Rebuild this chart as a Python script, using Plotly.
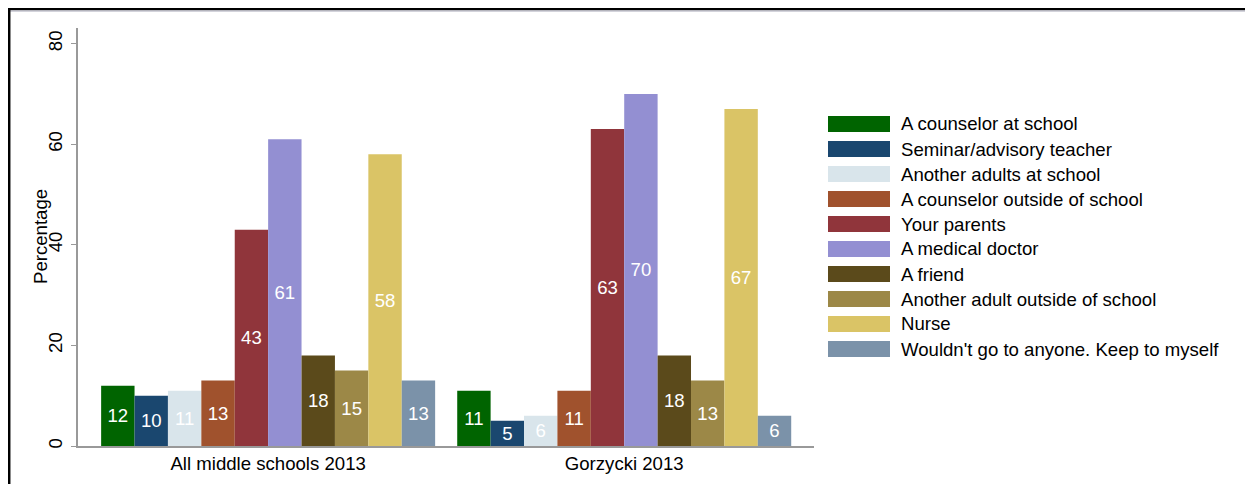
import plotly.graph_objects as go

# ---- data ----
categories = ["All middle schools 2013", "Gorzycki 2013"]
responses = [
    "A counselor at school",
    "Seminar/advisory teacher",
    "Another adults at school",
    "A counselor outside of school",
    "Your parents",
    "A medical doctor",
    "A friend",
    "Another adult outside of school",
    "Nurse",
    "Wouldn't go to anyone. Keep to myself",
]
all_middle_schools = [12, 10, 11, 13, 43, 61, 18, 15, 58, 13]
gorzycki = [11, 5, 6, 11, 63, 70, 18, 13, 67, 6]
y_ticks = [0, 20, 40, 60, 80]
y_title = "Percentage"

colors = [
    "#006400", "#1a476f", "#d9e5eb", "#a0522d", "#90353b",
    "#938fd2", "#5b4a1b", "#9c8847", "#dac466", "#7b92a9",
]

OFF = 8  # page body margin
W, H = 1253, 476
# plot area in page pixels -> figure pixels
L, R, T, B = 78 - OFF, 814 - OFF, 28 - OFF, 446 - OFF
FONT = "Arial, Liberation Sans, sans-serif"
FS = 18.6


def px_x(px):  # page pixel -> paper
    return (px - OFF - L) / (R - L)


def px_y(py):
    return (B - (py - OFF)) / (B - T)


fig = go.Figure()
for i, name in enumerate(responses):
    vals = [all_middle_schools[i], gorzycki[i]]
    fig.add_trace(go.Bar(
        x=[0, 1], y=vals, name=name,
        marker=dict(color=colors[i], line=dict(width=0)),
        text=[str(v) for v in vals],
        textposition="inside", insidetextanchor="middle",
        constraintext="none", textangle=0,
        insidetextfont=dict(color="white", size=FS, family=FONT),
        hoverinfo="name+y",
    ))

shapes = []
annotations = []
# manual legend
for i, name in enumerate(responses):
    cy = 124 + 25 * i
    shapes.append(dict(type="rect", xref="paper", yref="paper",
                       x0=px_x(828), x1=px_x(890), y0=px_y(cy + 8), y1=px_y(cy - 8),
                       fillcolor=colors[i], line=dict(width=0)))
    annotations.append(dict(xref="paper", yref="paper", x=px_x(899), y=px_y(cy),
                            xanchor="left", yanchor="middle", showarrow=False,
                            text=name, font=dict(size=FS, color="black", family=FONT)))

# y axis title
annotations.append(dict(xref="paper", yref="paper", x=px_x(40), y=0.5,
                        xanchor="center", yanchor="middle", showarrow=False,
                        textangle=-90, text=y_title,
                        font=dict(size=FS, color="black", family=FONT)))

# frame lines
shapes.append(dict(type="line", xref="paper", yref="paper",
                   x0=px_x(8), x1=px_x(OFF + W), y0=px_y(9), y1=px_y(9),
                   line=dict(color="black", width=2.5)))
shapes.append(dict(type="line", xref="paper", yref="paper",
                   x0=px_x(10), x1=px_x(OFF + W), y0=px_y(11), y1=px_y(11),
                   line=dict(color="#a8a8b8", width=1)))
shapes.append(dict(type="line", xref="paper", yref="paper",
                   x0=px_x(9.2), x1=px_x(9.2), y0=px_y(8), y1=px_y(OFF + H),
                   line=dict(color="black", width=2.5)))

fig.update_layout(
    width=W, height=H,
    margin=dict(l=L, r=W - R, t=T, b=H - B, autoexpand=False),
    paper_bgcolor="white", plot_bgcolor="white",
    barmode="group", bargap=0.062, bargroupgap=0,
    showlegend=False,
    font=dict(family=FONT, size=FS, color="black"),
    shapes=shapes, annotations=annotations,
    xaxis=dict(
        range=[-0.534, 1.533], tickvals=[0, 1], ticktext=categories,
        showline=True, linecolor="#999999", linewidth=1.5,
        ticks="", showgrid=False, zeroline=False, automargin=False,
        tickfont=dict(size=FS, color="black"),
    ),
    yaxis=dict(
        range=[0, 83.1], tickvals=y_ticks, tickangle=-90,
        showline=True, linecolor="#999999", linewidth=1.5,
        ticks="outside", ticklen=5, tickcolor="#999999", tickwidth=1,
        ticklabelstandoff=2, automargin=False,
        showgrid=False, zeroline=False,
        tickfont=dict(size=FS, color="black"),
    ),
)

fig.write_html("out.html")
